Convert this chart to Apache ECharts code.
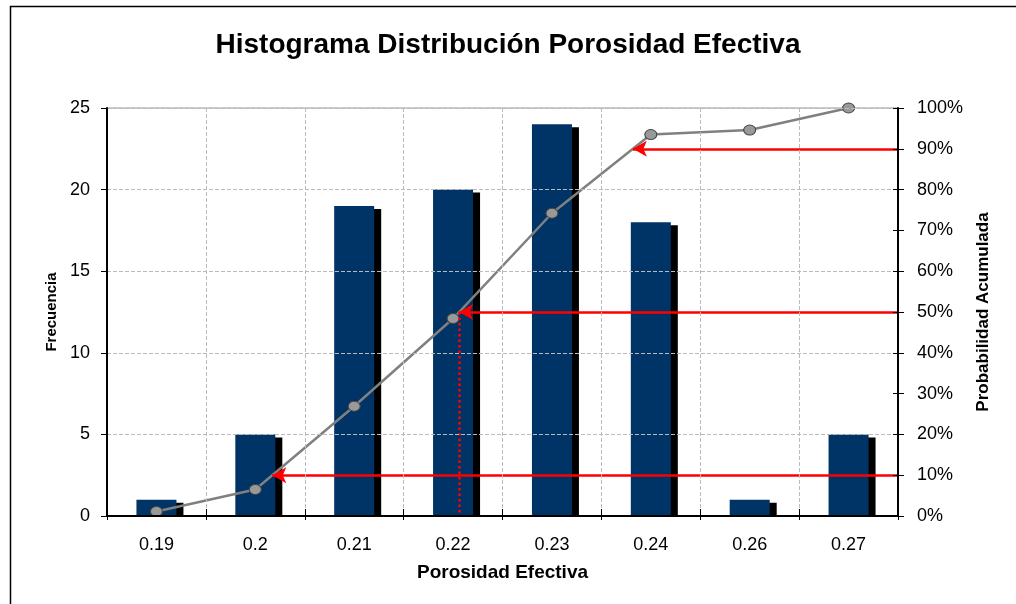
<!DOCTYPE html>
<html>
<head>
<meta charset="utf-8">
<script src="https://cdn.jsdelivr.net/npm/echarts@6/dist/echarts.min.js"></script>
<style>
html, body { margin: 0; padding: 0; background: #fff; }
#chart { width: 1016px; height: 604px; }
</style>
</head>
<body>
<div id="chart"></div>
<script>
var myChart = echarts.init(document.getElementById('chart'));

var categories = ['0.19', '0.2', '0.21', '0.22', '0.23', '0.24', '0.26', '0.27'];
var frequency = [1, 5, 19, 20, 24, 18, 1, 5];
var cumulative = [1.1, 6.5, 26.9, 48.4, 74.2, 93.5, 94.6, 100];
var levels = [90, 50, 10];
var medianLevel = 50;

// where the cumulative curve crosses a given level (category index units)
function crossAt(level) {
    for (var i = 0; i < cumulative.length - 1; i++) {
        if (cumulative[i] <= level && cumulative[i + 1] >= level) {
            var t = (level - cumulative[i]) / (cumulative[i + 1] - cumulative[i]);
            return i + t;
        }
    }
    return 0;
}

var lastX = categories.length - 0.5;
var arrowLines = [];
for (var i = 0; i < levels.length; i++) {
    arrowLines.push([
        { coord: [lastX, levels[i]] },
        { coord: [crossAt(levels[i]), levels[i]] }
    ]);
}
var medX = crossAt(medianLevel);

var font = '"Liberation Sans", Arial, sans-serif';

var option = {
    animation: false,
    backgroundColor: '#fff',
    title: {
        text: 'Histograma Distribución Porosidad Efectiva',
        left: 'center',
        top: 26,
        textStyle: { fontFamily: font, fontSize: 28, fontWeight: 'bold', color: '#000' }
    },
    graphic: [{
        type: 'rect',
        shape: { x: 10.5, y: 6.5, width: 1100, height: 700 },
        style: { fill: 'none', stroke: '#000', lineWidth: 1.5 },
        silent: true
    }, {
        // hides the bar shadows below the category axis
        type: 'rect',
        shape: { x: 108, y: 517, width: 789, height: 6 },
        style: { fill: '#fff' },
        z: 5,
        silent: true
    }],
    grid: {
        left: 107, right: 118, top: 108, bottom: 88,
        show: true, borderColor: '#999', borderWidth: 1
    },
    xAxis: [{
        type: 'category',
        data: categories,
        z: 10,
        name: 'Porosidad Efectiva',
        nameLocation: 'middle',
        nameGap: 47,
        nameTextStyle: { fontFamily: font, fontSize: 19, fontWeight: 'bold', color: '#000' },
        axisLine: { onZero: false, lineStyle: { color: '#000', width: 2 } },
        axisTick: { show: true, length: 4, lineStyle: { color: '#000' } },
        axisLabel: { fontFamily: font, fontSize: 18, color: '#000', margin: 20 },
        splitLine: { show: true, lineStyle: { color: '#bbb', type: 'dashed' } }
    }, {
        type: 'value',
        min: -0.5,
        max: categories.length - 0.5,
        show: false
    }, {
        type: 'category',
        data: categories,
        position: 'bottom',
        z: 10,
        axisLine: { show: false, onZero: false },
        axisTick: { show: true, inside: true, length: 7, lineStyle: { color: '#000' } },
        axisLabel: { show: false },
        splitLine: { show: false }
    }],
    yAxis: [{
        type: 'value',
        min: 0,
        max: 25,
        interval: 5,
        z: 10,
        name: 'Frecuencia',
        nameLocation: 'middle',
        nameGap: 48,
        nameRotate: 90,
        nameTextStyle: { fontFamily: font, fontSize: 15, fontWeight: 'bold', color: '#000' },
        axisLine: { show: true, onZero: false, lineStyle: { color: '#000', width: 2 } },
        axisTick: { show: true, length: 6, lineStyle: { color: '#000' } },
        axisLabel: { fontFamily: font, fontSize: 18, color: '#000', margin: 17 },
        splitLine: { show: true, lineStyle: { color: '#bbb', type: 'dashed' } }
    }, {
        type: 'value',
        min: 0,
        max: 100,
        interval: 10,
        position: 'right',
        z: 10,
        name: 'Probabilidad Acumulada',
        nameLocation: 'middle',
        nameGap: 77,
        nameRotate: 90,
        nameTextStyle: { fontFamily: font, fontSize: 17, fontWeight: 'bold', color: '#000' },
        axisLine: { show: true, onZero: false, lineStyle: { color: '#000', width: 2 } },
        axisTick: { show: true, length: 6, lineStyle: { color: '#000' } },
        axisLabel: { fontFamily: font, fontSize: 18, color: '#000', margin: 19, formatter: '{value}%' },
        splitLine: { show: false }
    }, {
        type: 'value',
        min: 0,
        max: 100,
        interval: 10,
        position: 'right',
        z: 10,
        axisLine: { show: false, onZero: false },
        axisTick: { show: true, inside: true, length: 5, lineStyle: { color: '#000' } },
        axisLabel: { show: false },
        splitLine: { show: false }
    }],
    series: [{
        name: 'Frecuencia',
        type: 'bar',
        data: frequency,
        barWidth: 40,
        itemStyle: {
            color: '#003366',
            shadowColor: '#000',
            shadowBlur: 0,
            shadowOffsetX: 7,
            shadowOffsetY: 3
        },
        z: 2
    }, {
        name: 'Acumulada',
        type: 'line',
        yAxisIndex: 1,
        data: cumulative,
        symbol: 'circle',
        symbolSize: [12, 10],
        lineStyle: { color: '#808080', width: 2.5 },
        itemStyle: { color: '#999', borderColor: '#444', borderWidth: 1 },
        z: 4
    }, {
        name: 'guias',
        type: 'line',
        xAxisIndex: 1,
        yAxisIndex: 1,
        data: [],
        z: 5,
        markLine: {
            silent: true,
            animation: false,
            symbol: ['none', 'arrow'],
            symbolSize: [12, 14],
            label: { show: false },
            lineStyle: { color: '#ff0000', width: 2.5, type: 'solid' },
            data: arrowLines
        }
    }, {
        name: 'mediana',
        type: 'line',
        xAxisIndex: 1,
        yAxisIndex: 1,
        data: [],
        z: 5,
        markLine: {
            silent: true,
            animation: false,
            symbol: ['none', 'none'],
            label: { show: false },
            lineStyle: { color: '#ff0000', width: 2.5, type: [2.5, 3] },
            data: [[{ coord: [medX, medianLevel] }, { coord: [medX, 0] }]]
        }
    }]
};
myChart.setOption(option);
</script>
</body>
</html>
